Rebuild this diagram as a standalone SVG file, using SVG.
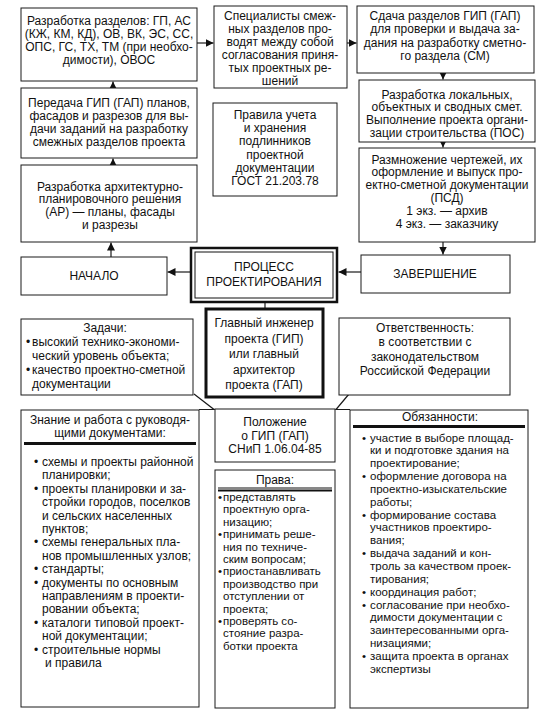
<svg xmlns="http://www.w3.org/2000/svg" width="541" height="719" viewBox="0 0 541 719">
<style>
.b{fill:#fff;stroke:#1a1a1a;stroke-width:1}
.t{font-family:"Liberation Sans",Arial,sans-serif;font-size:12px;fill:#111}
.s{font-size:11.5px}
.c{text-anchor:middle}
.ln{stroke:#1a1a1a;stroke-width:1.2;fill:none}
.hl{stroke:#111;stroke-width:3}
</style>
<defs>
<marker id="ah" markerUnits="userSpaceOnUse" markerWidth="8" markerHeight="8" refX="8" refY="4" orient="auto">
<path d="M0,0 L8,4 L0,8 z" fill="#111"/>
</marker>
</defs>
<rect width="541" height="719" fill="#fff"/>

<g id="connectors">
<line class="ln" x1="113" y1="88" x2="113" y2="81.5" marker-end="url(#ah)"/>
<line class="ln" x1="113" y1="165" x2="113" y2="158.5" marker-end="url(#ah)"/>
<line class="ln" x1="111" y1="257" x2="111" y2="242.5" marker-end="url(#ah)"/>
<line class="ln" x1="197" y1="43" x2="213.5" y2="43" marker-end="url(#ah)"/>
<line class="ln" x1="347" y1="43" x2="356.5" y2="43" marker-end="url(#ah)"/>
<line class="ln" x1="443" y1="73" x2="443" y2="79.5" marker-end="url(#ah)"/>
<line class="ln" x1="443" y1="142" x2="443" y2="147.5" marker-end="url(#ah)"/>
<line class="ln" x1="443" y1="242" x2="443" y2="254.5" marker-end="url(#ah)"/>
<line class="ln" x1="190" y1="272" x2="167.5" y2="272" marker-end="url(#ah)"/>
<line class="ln" x1="361" y1="272" x2="338.5" y2="272" marker-end="url(#ah)"/>
<line class="ln" x1="265" y1="302" x2="265" y2="309"/>
<polyline class="ln" points="194,394 214,409.5 199,409.5"/>
<polyline class="ln" points="349,394 336,409.5 350,409.5"/>
</g>

<g id="n-razdely">
<rect class="b" x="21" y="8" width="176" height="73"/>
<text class="t c"><tspan x="109" y="25">Разработка разделов: ГП, АС</tspan><tspan x="109" y="38">(КЖ, КМ, КД), ОВ, ВК, ЭС, СС,</tspan><tspan x="109" y="51">ОПС, ГС, ТХ, ТМ (при необхо-</tspan><tspan x="109" y="64">димости), ОВОС</tspan></text>
</g>

<g id="n-specialisty">
<rect class="b" x="214" y="6" width="133" height="82"/>
<text class="t c"><tspan x="280" y="20">Специалисты смеж-</tspan><tspan x="280" y="33">ных разделов про-</tspan><tspan x="280" y="46">водят между собой</tspan><tspan x="280" y="59">согласования приня-</tspan><tspan x="280" y="72">тых проектных ре-</tspan><tspan x="280" y="85">шений</tspan></text>
</g>

<g id="n-sdacha">
<rect class="b" x="357" y="6" width="177" height="67"/>
<text class="t c"><tspan x="445" y="19.5">Сдача разделов ГИП (ГАП)</tspan><tspan x="445" y="33">для проверки и выдача за-</tspan><tspan x="445" y="46.5">дания на разработку сметно-</tspan><tspan x="445" y="60">го раздела (СМ)</tspan></text>
</g>

<g id="n-smety">
<rect class="b" x="359" y="80" width="176" height="62"/>
<text class="t c"><tspan x="447" y="98.5">Разработка локальных,</tspan><tspan x="447" y="111.2">объектных и сводных смет.</tspan><tspan x="447" y="123.9">Выполнение проекта органи-</tspan><tspan x="447" y="136.6">зации строительства (ПОС)</tspan></text>
</g>

<g id="n-razmnozhenie">
<rect class="b" x="359" y="148" width="176" height="94"/>
<text class="t c"><tspan x="447" y="163.5">Размножение чертежей, их</tspan><tspan x="447" y="176.3">оформление и выпуск про-</tspan><tspan x="447" y="189.1">ектно-сметной документации</tspan><tspan x="447" y="201.9">(ПСД)</tspan><tspan x="447" y="214.7">1 экз. — архив</tspan><tspan x="447" y="227.5">4 экз. — заказчику</tspan></text>
</g>

<g id="n-peredacha">
<rect class="b" x="21" y="88" width="176" height="70"/>
<text class="t c"><tspan x="109" y="107">Передача ГИП (ГАП) планов,</tspan><tspan x="109" y="120">фасадов и разрезов для вы-</tspan><tspan x="109" y="133">дачи заданий на разработку</tspan><tspan x="109" y="146">смежных разделов проекта</tspan></text>
</g>

<g id="n-ar">
<rect class="b" x="21" y="165" width="176" height="77"/>
<text class="t c"><tspan x="110" y="190.5">Разработка архитектурно-</tspan><tspan x="110" y="203.3">планировочного решения</tspan><tspan x="110" y="216.1">(АР) — планы, фасады</tspan><tspan x="110" y="229">и разрезы</tspan></text>
</g>

<g id="n-pravila">
<rect class="b" x="213" y="103" width="124" height="93"/>
<text class="t c"><tspan x="275" y="119">Правила учета</tspan><tspan x="275" y="132.2">и хранения</tspan><tspan x="275" y="145.4">подлинников</tspan><tspan x="275" y="158.6">проектной</tspan><tspan x="275" y="171.8">документации</tspan><tspan x="275" y="185">ГОСТ 21.203.78</tspan></text>
</g>

<g id="n-nachalo">
<rect class="b" x="21" y="257" width="146" height="38"/>
<text class="t c" x="94" y="280">НАЧАЛО</text>
</g>

<g id="n-process">
<rect x="191" y="248" width="146" height="54" fill="#fff" stroke="#111" stroke-width="2.5"/>
<rect x="195" y="252" width="138" height="46" fill="none" stroke="#111" stroke-width="1"/>
<text class="t c"><tspan x="264" y="271">ПРОЦЕСС</tspan><tspan x="264" y="286">ПРОЕКТИРОВАНИЯ</tspan></text>
</g>

<g id="n-zavershenie">
<rect class="b" x="361" y="255" width="149" height="38"/>
<text class="t c" x="435" y="278">ЗАВЕРШЕНИЕ</text>
</g>

<g id="n-gip">
<rect x="206" y="309" width="117" height="88" fill="#fff" stroke="#111" stroke-width="3"/>
<text class="t c"><tspan x="264" y="327">Главный инженер</tspan><tspan x="264" y="342.5">проекта (ГИП)</tspan><tspan x="264" y="358">или главный</tspan><tspan x="264" y="373.5">архитектор</tspan><tspan x="264" y="389">проекта (ГАП)</tspan></text>
</g>

<g id="n-zadachi">
<rect class="b" x="21" y="319" width="172" height="76"/>
<text class="t c" x="105" y="332">Задачи:</text>
<text class="t"><tspan x="26" y="346">•</tspan><tspan x="26" y="374">•</tspan></text>
<text class="t"><tspan x="32" y="346">высокий технико-экономи-</tspan><tspan x="32" y="360">ческий уровень объекта;</tspan><tspan x="32" y="374">качество проектно-сметной</tspan><tspan x="32" y="388">документации</tspan></text>
</g>

<g id="n-otvetstvennost">
<rect class="b" x="339" y="318" width="171" height="77"/>
<text class="t c"><tspan x="425" y="332">Ответственность:</tspan><tspan x="425" y="346">в соответствии с</tspan><tspan x="425" y="361">законодательством</tspan><tspan x="425" y="375">Российской Федерации</tspan></text>
</g>

<g id="n-znanie">
<rect class="b" x="21" y="410" width="178" height="297"/>
<text class="t c"><tspan x="110" y="424">Знание и работа с руководя-</tspan><tspan x="110" y="437">щими документами:</tspan></text>
<line class="hl" x1="24" y1="443.5" x2="196" y2="443.5"/>
<text class="t"><tspan x="34" y="466">•</tspan><tspan x="34" y="492.8">•</tspan><tspan x="34" y="546.4">•</tspan><tspan x="34" y="573.2">•</tspan><tspan x="34" y="586.6">•</tspan><tspan x="34" y="626.8">•</tspan><tspan x="34" y="653.6">•</tspan></text>
<text class="t"><tspan x="42" y="466">схемы и проекты районной</tspan><tspan x="42" y="479.4">планировки;</tspan><tspan x="42" y="492.8">проекты планировки и за-</tspan><tspan x="42" y="506.2">стройки городов, поселков</tspan><tspan x="42" y="519.6">и сельских населенных</tspan><tspan x="42" y="533">пунктов;</tspan><tspan x="42" y="546.4">схемы генеральных пла-</tspan><tspan x="42" y="559.8">нов промышленных узлов;</tspan><tspan x="42" y="573.2">стандарты;</tspan><tspan x="42" y="586.6">документы по основным</tspan><tspan x="42" y="600">направлениям в проекти-</tspan><tspan x="42" y="613.4">ровании объекта;</tspan><tspan x="42" y="626.8">каталоги типовой проект-</tspan><tspan x="42" y="640.2">ной документации;</tspan><tspan x="42" y="653.6">строительные нормы</tspan><tspan x="45" y="667">и правила</tspan></text>
</g>

<g id="n-polozhenie">
<rect class="b" x="215" y="409" width="120" height="53"/>
<text class="t c"><tspan x="275" y="426">Положение</tspan><tspan x="275" y="439.5">о ГИП (ГАП)</tspan><tspan x="275" y="453">СНиП 1.06.04-85</tspan></text>
</g>

<g id="n-prava">
<rect class="b" x="215" y="470" width="120" height="238"/>
<text class="t c" x="275" y="484">Права:</text>
<line x1="218" y1="488" x2="332" y2="488" stroke="#111" stroke-width="1"/>
<line x1="218" y1="490.5" x2="332" y2="490.5" stroke="#111" stroke-width="2"/>
<text class="t s"><tspan x="218" y="501">•</tspan><tspan x="218" y="538.2">•</tspan><tspan x="218" y="575.4">•</tspan><tspan x="218" y="625">•</tspan></text>
<text class="t s"><tspan x="223" y="501">представлять</tspan><tspan x="223" y="513.4">проектную орга-</tspan><tspan x="223" y="525.8">низацию;</tspan><tspan x="223" y="538.2">принимать реше-</tspan><tspan x="223" y="550.6">ния по техниче-</tspan><tspan x="223" y="563">ским вопросам;</tspan><tspan x="223" y="575.4">приостанавливать</tspan><tspan x="223" y="587.8">производство при</tspan><tspan x="223" y="600.2">отступлении от</tspan><tspan x="223" y="612.6">проекта;</tspan><tspan x="223" y="625">проверять со-</tspan><tspan x="223" y="637.4">стояние разра-</tspan><tspan x="223" y="649.8">ботки проекта</tspan></text>
</g>

<g id="n-obyazannosti">
<rect class="b" x="350" y="410" width="178" height="298"/>
<text class="t c" x="440" y="421">Обязанности:</text>
<line class="hl" x1="353" y1="426.5" x2="525" y2="426.5"/>
<text class="t s"><tspan x="362" y="441.5">•</tspan><tspan x="362" y="480.05">•</tspan><tspan x="362" y="518.6">•</tspan><tspan x="362" y="557.15">•</tspan><tspan x="362" y="595.7">•</tspan><tspan x="362" y="608.55">•</tspan><tspan x="362" y="659.95">•</tspan></text>
<text class="t s"><tspan x="370" y="441.5">участие в выборе площад-</tspan><tspan x="370" y="454.35">ки и подготовке здания на</tspan><tspan x="370" y="467.2">проектирование;</tspan><tspan x="370" y="480.05">оформление договора на</tspan><tspan x="370" y="492.9">проектно-изыскательские</tspan><tspan x="370" y="505.75">работы;</tspan><tspan x="370" y="518.6">формирование состава</tspan><tspan x="370" y="531.45">участников проектиро-</tspan><tspan x="370" y="544.3">вания;</tspan><tspan x="370" y="557.15">выдача заданий и кон-</tspan><tspan x="370" y="570">троль за качеством проек-</tspan><tspan x="370" y="582.85">тирования;</tspan><tspan x="370" y="595.7">координация работ;</tspan><tspan x="370" y="608.55">согласование при необхо-</tspan><tspan x="370" y="621.4">димости документации с</tspan><tspan x="370" y="634.25">заинтересованными  орга-</tspan><tspan x="370" y="647.1">низациями;</tspan><tspan x="370" y="659.95">защита проекта в органах</tspan><tspan x="370" y="672.8">экспертизы</tspan></text>
</g>
</svg>
